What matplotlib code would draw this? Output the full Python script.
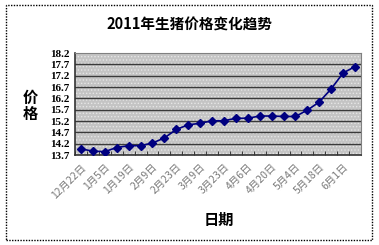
import matplotlib
matplotlib.use("Agg")
import matplotlib.pyplot as plt
from matplotlib.patches import Rectangle

plt.rcParams['font.family'] = ['Noto Sans CJK SC', 'DejaVu Sans']
plt.rcParams['hatch.linewidth'] = 0.6

# weekly pig prices
dates = ['12月22日', '12月29日', '1月5日', '1月12日', '1月19日', '1月26日',
         '2月9日', '2月16日', '2月23日', '3月2日', '3月9日', '3月16日',
         '3月23日', '3月30日', '4月6日', '4月13日', '4月20日', '4月27日',
         '5月4日', '5月11日', '5月18日', '5月25日', '6月1日', '6月8日']
prices = [13.97, 13.87, 13.85, 14.03, 14.11, 14.11, 14.23, 14.45, 14.83,
          15.03, 15.10, 15.21, 15.21, 15.32, 15.32, 15.42, 15.42, 15.40,
          15.40, 15.68, 16.04, 16.62, 17.32, 17.60]
yticks = [13.7, 14.2, 14.7, 15.2, 15.7, 16.2, 16.7, 17.2, 17.7, 18.2]

fig = plt.figure(figsize=(3.79, 2.45), dpi=100)
ax = fig.add_axes([75 / 379, 90 / 245, 286 / 379, 102 / 245])

# dotted grey plot area
ax.set_facecolor('#c4c4c4')
ax.add_patch(Rectangle((0, 0), 1, 1, transform=ax.transAxes, facecolor='none',
                       edgecolor='#e6e6e6', hatch='.....', lw=0, zorder=0))

x = list(range(len(prices)))
ax.plot(x, prices, color='#000080', marker='D', markersize=4.5, lw=1.2, zorder=3)

ax.set_xlim(-0.5, len(prices) - 0.5)
ax.set_ylim(13.7, 18.2)
ax.set_yticks(yticks)
ax.set_yticklabels([f'{v:.1f}' for v in yticks], family='Liberation Serif',
                   fontweight='bold', fontsize=8)
for v in yticks[1:-1]:
    ax.axhline(v, color='#3a3a3a', lw=1, zorder=1)

ax.set_xticks(x[::2])
ax.set_xticklabels(dates[::2], rotation=45, ha='right', va='top',
                   rotation_mode='anchor', fontsize=7.5, color='#7a7a7a')
ax.set_xticks([i - 0.5 for i in range(len(prices) + 1)], minor=True)
ax.tick_params(axis='x', which='major', length=0, pad=5)
ax.tick_params(axis='x', which='minor', direction='in', length=3, color='#222222')
ax.tick_params(axis='y', length=0, pad=4)

for s in ['top', 'right']:
    ax.spines[s].set_color('#808080')
for s in ['left', 'bottom']:
    ax.spines[s].set_color('#333333')
    ax.spines[s].set_linewidth(1.2)

fig.text(0.5, 1 - 25 / 245, '2011年生猪价格变化趋势', ha='center', va='center',
         fontsize=10.5, fontweight='bold')
fig.text(30 / 379, 1 - 106 / 245, '价\n格', ha='center', va='center',
         fontsize=11, fontweight='bold', linespacing=1.05)
fig.text(219 / 379, 1 - 220 / 245, '日期', ha='center', va='center',
         fontsize=11, fontweight='bold')

# dotted chart border
fig.patches.append(Rectangle((6 / 379, 5 / 245), 366 / 379, 235 / 245,
                             transform=fig.transFigure, fill=False,
                             edgecolor='black', lw=1, linestyle=(0, (1, 1))))

fig.savefig('out.png', dpi=100)
